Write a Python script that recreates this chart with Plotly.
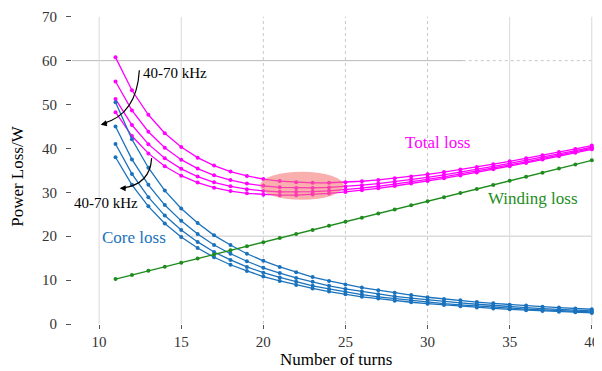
import plotly.graph_objects as go

turns = list(range(11, 41))

core_40k = [50.5, 42.1, 35.6, 30.4, 26.3, 23.0, 20.2, 18.0, 16.0, 14.4, 13.0, 11.8, 10.7, 9.8, 9.0,
            8.3, 7.7, 7.1, 6.6, 6.1, 5.7, 5.4, 5.0, 4.7, 4.4, 4.2, 3.95, 3.74, 3.54, 3.36]
core_50k = [45.0, 37.5, 31.7, 27.1, 23.5, 20.5, 18.0, 16.0, 14.3, 12.8, 11.6, 10.5, 9.6, 8.7, 8.0,
            7.4, 6.8, 6.3, 5.9, 5.5, 5.1, 4.8, 4.5, 4.2, 3.96, 3.73, 3.52, 3.33, 3.15, 2.99]
core_60k = [41.0, 34.2, 28.9, 24.7, 21.4, 18.7, 16.4, 14.6, 13.0, 11.7, 10.6, 9.6, 8.7, 8.0, 7.3,
            6.7, 6.2, 5.8, 5.35, 5.0, 4.65, 4.35, 4.08, 3.83, 3.61, 3.40, 3.21, 3.03, 2.87, 2.73]
core_70k = [38.0, 31.7, 26.8, 22.9, 19.8, 17.3, 15.2, 13.5, 12.1, 10.8, 9.8, 8.9, 8.1, 7.4, 6.8,
            6.2, 5.8, 5.3, 4.96, 4.62, 4.31, 4.04, 3.78, 3.55, 3.34, 3.15, 2.98, 2.81, 2.66, 2.53]

winding = [10.25, 11.18, 12.12, 13.05, 13.98, 14.91, 15.84, 16.78, 17.71, 18.64, 19.57, 20.50,
           21.44, 22.37, 23.30, 24.23, 25.16, 26.10, 27.03, 27.96, 28.89, 29.82, 30.76, 31.69,
           32.62, 33.55, 34.48, 35.42, 36.35, 37.28]

total_40k = [60.75, 53.25, 47.67, 43.48, 40.31, 37.90, 36.09, 34.73, 33.74, 33.03, 32.56, 32.28,
             32.17, 32.18, 32.30, 32.52, 32.82, 33.20, 33.63, 34.10, 34.62, 35.18, 35.78, 36.41,
             37.06, 37.74, 38.43, 39.16, 39.89, 40.64]
total_50k = [55.25, 48.67, 43.80, 40.17, 37.44, 35.40, 33.88, 32.78, 31.99, 31.47, 31.14, 30.99,
             31.00, 31.11, 31.32, 31.62, 31.99, 32.43, 32.91, 33.43, 34.00, 34.60, 35.24, 35.90,
             36.58, 37.28, 38.00, 38.75, 39.50, 40.27]
total_60k = [51.25, 45.33, 40.98, 37.76, 35.35, 33.58, 32.28, 31.36, 30.72, 30.33, 30.12, 30.06,
             30.15, 30.34, 30.61, 30.96, 31.38, 31.86, 32.38, 32.95, 33.54, 34.17, 34.84, 35.52,
             36.23, 36.95, 37.69, 38.45, 39.22, 40.01]
total_70k = [48.25, 42.83, 38.87, 35.95, 33.79, 32.21, 31.07, 30.29, 29.77, 29.47, 29.34, 29.36,
             29.52, 29.75, 30.08, 30.47, 30.92, 31.44, 31.99, 32.58, 33.20, 33.86, 34.54, 35.24,
             35.96, 36.70, 37.46, 38.23, 39.01, 39.81]

x_ticks = [10, 15, 20, 25, 30, 35, 40]
y_ticks = [0, 10, 20, 30, 40, 50, 60, 70]

# highlight region of optimum (turns range, loss range)
opt_turns = (19.8, 24.9)
opt_loss = (28.3, 34.7)

MAGENTA = "#ff00ff"
BLUE = "#1a72bd"
GREEN = "#1e8c1e"
SERIF = "Liberation Serif, Times New Roman, serif"

fig = go.Figure()

for ys in [total_40k, total_50k, total_60k, total_70k]:
    fig.add_trace(go.Scatter(x=turns, y=ys, mode="lines+markers",
                             line=dict(color=MAGENTA, width=1.3),
                             marker=dict(color=MAGENTA, size=4), showlegend=False))
for ys in [core_40k, core_50k, core_60k, core_70k]:
    fig.add_trace(go.Scatter(x=turns, y=ys, mode="lines+markers",
                             line=dict(color=BLUE, width=1.3),
                             marker=dict(color=BLUE, size=4), showlegend=False))
fig.add_trace(go.Scatter(x=turns, y=winding, mode="lines+markers",
                         line=dict(color=GREEN, width=1.3),
                         marker=dict(color=GREEN, size=4), showlegend=False))

shapes = []
# gridlines
for xv in [10, 15, 35, 40]:
    shapes.append(dict(type="line", xref="x", yref="y", x0=xv, x1=xv, y0=0, y1=70,
                       line=dict(color="#d9d9d9", width=1), layer="below"))
for xv in [20, 25, 30]:
    shapes.append(dict(type="line", xref="x", yref="y", x0=xv, x1=xv, y0=0, y1=70,
                       line=dict(color="#c8c8c8", width=1, dash="dot"), layer="below"))
shapes.append(dict(type="line", xref="paper", yref="y", x0=0, x1=0.74, y0=60, y1=60,
                   line=dict(color="#b8b8b8", width=1), layer="below"))
shapes.append(dict(type="line", xref="paper", yref="y", x0=0.74, x1=0.985, y0=60, y1=60,
                   line=dict(color="#c8c8c8", width=1, dash="dot"), layer="below"))
shapes.append(dict(type="line", xref="x", yref="y", x0=15, x1=40, y0=20, y1=20,
                   line=dict(color="#dcdcdc", width=1.5), layer="below"))
# highlight ellipse
shapes.append(dict(type="circle", xref="x", yref="y",
                   x0=opt_turns[0], x1=opt_turns[1], y0=opt_loss[0], y1=opt_loss[1],
                   fillcolor="rgba(245,110,110,0.55)", line=dict(width=0), layer="above"))
# curved arrows
shapes.append(dict(type="path", xref="x", yref="y",
                   path="M 12.45,57.8 Q 12.3,47.7 10.2,45.6",
                   line=dict(color="black", width=1.2)))
shapes.append(dict(type="path", xref="x", yref="y",
                   path="M 13.2,37.8 Q 13.1,31.7 11.4,31.0",
                   line=dict(color="black", width=1.2)))

annotations = [
    dict(x=10.1, y=45.4, ax=8, ay=-2, axref="pixel", ayref="pixel", xref="x", yref="y",
         text="", showarrow=True, arrowhead=2, arrowsize=1, arrowwidth=1.2, arrowcolor="black"),
    dict(x=11.25, y=30.95, ax=8, ay=0, axref="pixel", ayref="pixel", xref="x", yref="y",
         text="", showarrow=True, arrowhead=2, arrowsize=1, arrowwidth=1.2, arrowcolor="black"),
    dict(x=12.55, y=57.2, text="40-70 kHz", showarrow=False, xanchor="left",
         font=dict(family=SERIF, size=15, color="black")),
    dict(x=10.45, y=27.5, text="40-70 kHz", showarrow=False,
         font=dict(family=SERIF, size=15, color="black")),
    dict(x=12.15, y=19.6, text="Core loss", showarrow=False,
         font=dict(family=SERIF, size=17, color=BLUE)),
    dict(x=30.6, y=41.4, text="Total loss", showarrow=False,
         font=dict(family=SERIF, size=17, color=MAGENTA)),
    dict(x=36.4, y=28.5, text="Winding loss", showarrow=False,
         font=dict(family=SERIF, size=17, color=GREEN)),
    dict(x=0.5, y=-0.116, xref="paper", yref="paper", text="Number of turns", showarrow=False,
         xanchor="center", yanchor="middle",
         font=dict(family=SERIF, size=17, color="black")),
    dict(x=-0.102, y=0.48, xref="paper", yref="paper", text="Power Loss/W", showarrow=False,
         xanchor="center", yanchor="middle", textangle=-90,
         font=dict(family=SERIF, size=17, color="black")),
]

# page body adds an 8px offset, so the figure is sized to compensate
fig.update_layout(
    width=594, height=363,
    margin=dict(l=64, r=2, t=7, b=47),
    paper_bgcolor="white", plot_bgcolor="white",
    shapes=shapes, annotations=annotations,
    xaxis=dict(range=[8.35, 40.5], tickvals=x_ticks, showgrid=False, zeroline=False,
               showline=False, ticks="outside", ticklen=4, tickcolor="#555",
               automargin=False,
               tickfont=dict(family=SERIF, size=15, color="#333")),
    yaxis=dict(range=[0, 70.4], tickvals=y_ticks, showgrid=False, zeroline=False,
               showline=False, ticks="outside", ticklen=5, tickcolor="#555",
               ticklabelstandoff=6, automargin=False,
               tickfont=dict(family=SERIF, size=15, color="#333")),
)

fig.write_html("out.html")
